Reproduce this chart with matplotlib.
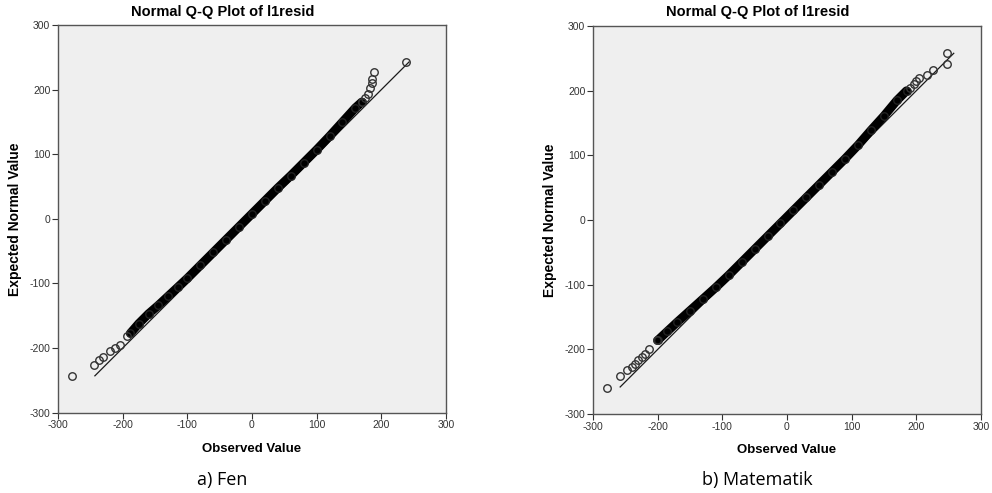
import numpy as np
import matplotlib.pyplot as plt

plt.rcParams["axes.unicode_minus"] = False

# -------------------------------
# Data
# -------------------------------
# a) Fen : sparse tail points (observed, expected)
fen_tail_obs = [-278, -244, -236, -231, -220, -212, -204, -194,
                170, 175, 180, 182, 185, 186, 188, 239]
fen_tail_exp = [-243, -227, -218, -214, -205, -200, -196, -182,
                181, 187, 194, 202, 210, 217, 227, 243]
# dense band of overlapping points
fen_band_obs = [-188, -175, -160, -145, -130, -115, -100, -80, -60, -40, -20,
                0, 20, 40, 60, 80, 100, 120, 140, 160, 170]
fen_band_exp = [-177, -162, -147, -134, -120, -106, -92, -72, -52, -32, -12,
                8, 28, 48, 67, 87, 107, 128, 150, 172, 181]
fen_line = [-243, 243]

# b) Matematik
mat_tail_obs = [-279, -259, -247, -240, -235, -230, -225, -220, -213, -201,
                190, 196, 200, 204, 216, 226, 248, 248]
mat_tail_exp = [-259, -241, -232, -227, -222, -216, -212, -207, -200, -185,
                205, 211, 215, 220, 225, 232, 241, 259]
mat_band_obs = [-200, -185, -170, -150, -130, -110, -90, -70, -50, -30, -10,
                10, 30, 50, 70, 90, 110, 130, 150, 170, 185]
mat_band_exp = [-186, -172, -158, -140, -122, -104, -85, -65, -45, -25, -5,
                15, 35, 55, 75, 95, 116, 139, 161, 185, 200]
mat_line = [-258, 258]

ticks = [-300, -200, -100, 0, 100, 200, 300]

panels = [
    dict(tail=(fen_tail_obs, fen_tail_exp), band=(fen_band_obs, fen_band_exp),
         line=fen_line, caption="a) Fen",
         rect=[0.0585, 0.163, 0.391, 0.786], title_x=0.224, ylab_x=0.015),
    dict(tail=(mat_tail_obs, mat_tail_exp), band=(mat_band_obs, mat_band_exp),
         line=mat_line, caption="b) Matematik",
         rect=[0.5978, 0.160, 0.391, 0.787], title_x=0.764, ylab_x=0.554),
]

fig = plt.figure(figsize=(9.92, 4.93), dpi=100)
fig.patch.set_facecolor("white")

for p in panels:
    ax = fig.add_axes(p["rect"])
    ax.set_facecolor("#efefef")

    # reference line
    ax.plot(p["line"], p["line"], color="#1a1a1a", linewidth=0.9, zorder=2)

    # dense band
    bx, by = p["band"]
    ax.plot(bx, by, color="black", linewidth=6.4, solid_capstyle="round",
            solid_joinstyle="round", zorder=3)
    ax.plot(bx, by, "o", markersize=5.4, markerfacecolor="none",
            markeredgecolor="#222222", markeredgewidth=1.0, zorder=3)

    # tail points
    tx, ty = p["tail"]
    ax.plot(tx, ty, "o", markersize=5.4, markerfacecolor="none",
            markeredgecolor="#333333", markeredgewidth=1.0, zorder=4)

    ax.set_xlim(-300, 300)
    ax.set_ylim(-300, 300)
    ax.set_xticks(ticks)
    ax.set_yticks(ticks)
    ax.tick_params(direction="out", length=4, width=0.8, labelsize=7.5,
                   colors="#333333", pad=1.5)
    for s in ax.spines.values():
        s.set_color("#555555")
        s.set_linewidth(1.0)

    ax.set_xlabel("Observed Value", fontsize=9.5, fontweight="bold",
                  family="Liberation Sans", labelpad=9)
    fig.text(p["ylab_x"], (p["rect"][1] + p["rect"][3] / 2),
             "Expected Normal Value", rotation=90, fontsize=10,
             fontweight="bold", family="Liberation Sans",
             ha="center", va="center")
    fig.text(p["title_x"], 0.975, "Normal Q-Q Plot of l1resid", fontsize=10.5,
             fontweight="bold", family="Liberation Sans",
             ha="center", va="center")
    fig.text(p["rect"][0] + p["rect"][2] / 2 - 0.03, 0.027, p["caption"],
             fontsize=13, family="Open Sans", ha="center", va="center")

    for lab in ax.get_xticklabels() + ax.get_yticklabels():
        lab.set_family("Liberation Sans")

plt.savefig("out.png", dpi=100)
